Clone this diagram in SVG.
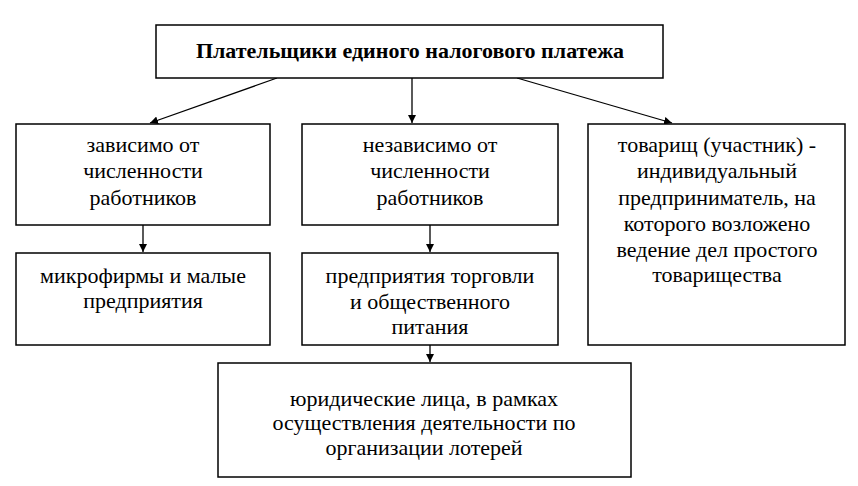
<svg xmlns="http://www.w3.org/2000/svg" width="858" height="486" viewBox="0 0 858 486" font-family="Liberation Serif, Times New Roman, DejaVu Serif, serif">
<style>
.box{fill:#fff;stroke:#000;stroke-width:1.5}
.t{font-family:Liberation Serif, Times New Roman, DejaVu Serif, serif;font-size:22px;fill:#000;text-anchor:middle}
.b{font-weight:bold}
.c{stroke:#000;stroke-width:1.3;fill:none}
</style>
<defs>
<marker id="ah" viewBox="0 0 10 10" refX="10" refY="5" markerWidth="8" markerHeight="8" markerUnits="userSpaceOnUse" orient="auto">
<path d="M0,0 L10,5 L0,10 z" fill="#000"/>
</marker>
</defs>
<rect width="858" height="486" fill="#fff"/>
<g id="connectors">
<line class="c" x1="277" y1="78" x2="150" y2="123" marker-end="url(#ah)"/>
<line class="c" x1="412" y1="78" x2="412" y2="123" marker-end="url(#ah)"/>
<line class="c" x1="517" y1="78" x2="672" y2="123" marker-end="url(#ah)"/>
<line class="c" x1="143" y1="225" x2="143" y2="252" marker-end="url(#ah)"/>
<line class="c" x1="430" y1="225" x2="430" y2="252" marker-end="url(#ah)"/>
<line class="c" x1="430" y1="345" x2="430" y2="362" marker-end="url(#ah)"/>
</g>
<g id="root">
<rect class="box" x="156" y="25" width="507" height="53"/>
<text class="t b" x="410" y="58">Плательщики единого налогового платежа</text>
</g>
<g id="dep">
<rect class="box" x="16" y="124" width="254" height="101"/>
<text class="t" x="143" y="152">зависимо от</text>
<text class="t" x="143" y="178">численности</text>
<text class="t" x="143" y="205">работников</text>
</g>
<g id="indep">
<rect class="box" x="302" y="124" width="256" height="101"/>
<text class="t" x="430" y="152">независимо от</text>
<text class="t" x="430" y="178">численности</text>
<text class="t" x="430" y="205">работников</text>
</g>
<g id="partner">
<rect class="box" x="588" y="124" width="257" height="221"/>
<text class="t" x="717" y="152">товарищ (участник) -</text>
<text class="t" x="717" y="178">индивидуальный</text>
<text class="t" x="717" y="205">предприниматель, на</text>
<text class="t" x="717" y="231">которого возложено</text>
<text class="t" x="717" y="257">ведение дел простого</text>
<text class="t" x="717" y="282">товарищества</text>
</g>
<g id="micro">
<rect class="box" x="16" y="253" width="254" height="92"/>
<text class="t" x="143" y="283">микрофирмы и малые</text>
<text class="t" x="143" y="308">предприятия</text>
</g>
<g id="trade">
<rect class="box" x="302" y="253" width="256" height="92"/>
<text class="t" x="430" y="283">предприятия торговли</text>
<text class="t" x="430" y="309">и общественного</text>
<text class="t" x="430" y="334">питания</text>
</g>
<g id="lottery">
<rect class="box" x="218" y="363" width="413" height="114"/>
<text class="t" x="424" y="406">юридические лица, в рамках</text>
<text class="t" x="424" y="430">осуществления деятельности  по</text>
<text class="t" x="424" y="455">организации лотерей</text>
</g>
</svg>
